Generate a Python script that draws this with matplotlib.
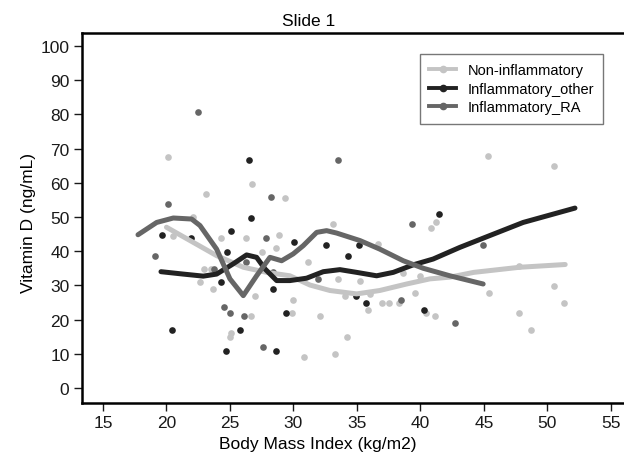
import numpy as np
import matplotlib
matplotlib.use("Agg")
import matplotlib.pyplot as plt
from matplotlib.lines import Line2D

plt.rcParams["font.family"] = ["Liberation Sans", "DejaVu Sans"]

# ---- scatter points (BMI, Vitamin D) ----
non_x = [20.09, 23.09, 26.7, 29.33, 22.11, 20.54, 24.29, 26.24, 28.9, 27.54, 28.6,
         22.95, 23.5, 22.64, 23.69, 27.0, 29.94, 29.86, 26.65, 25.06, 25.0,
         33.14, 40.8, 41.2, 36.68, 31.12, 33.48, 35.24, 38.65, 39.96, 34.06,
         36.02, 35.9, 36.95, 37.55, 38.33, 39.6, 40.41, 41.14, 32.09, 34.24,
         33.27, 30.85, 45.34, 50.5, 45.37, 47.76, 48.68, 50.51, 51.32, 47.8]
non_y = [67.6, 56.6, 59.7, 55.5, 50.1, 44.5, 43.8, 43.8, 44.7, 39.9, 40.8,
         34.8, 34.8, 30.9, 28.9, 27.0, 25.8, 21.8, 21.0, 16.1, 14.9,
         47.9, 46.7, 48.6, 42.1, 36.9, 31.9, 31.4, 33.6, 32.8, 27.0,
         27.5, 22.9, 24.9, 24.9, 24.9, 27.8, 21.8, 21.1, 21.0, 14.8,
         9.9, 9.0, 67.7, 64.8, 27.8, 21.8, 17.0, 29.7, 24.9, 35.8]

oth_x = [26.5, 26.63, 19.62, 21.93, 25.08, 30.04, 24.79, 24.27, 28.36, 29.41,
         25.79, 20.46, 24.69, 28.65, 41.46, 32.56, 35.18, 34.31, 34.92, 35.7, 40.3]
oth_y = [66.8, 49.7, 44.7, 43.8, 45.8, 42.8, 39.9, 30.9, 28.9, 21.8,
         17.0, 17.0, 10.8, 10.8, 50.9, 41.9, 41.9, 38.7, 27.0, 24.9, 22.9]

ra_x = [22.48, 28.23, 20.09, 27.83, 19.09, 23.76, 26.24, 28.41, 24.53, 24.98,
        26.1, 27.62, 33.53, 39.3, 31.95, 38.46, 44.94, 42.7]
ra_y = [80.6, 55.8, 53.8, 43.8, 38.7, 34.8, 36.8, 33.8, 23.8, 21.8,
        21.0, 11.9, 66.8, 47.9, 31.9, 25.8, 41.8, 19.0]

# ---- smoothed curves ----
non_lx = [20.0, 22.1, 23.95, 26.05, 27.9, 29.72, 31.3, 32.87, 34.98, 36.8,
          38.91, 40.75, 42.32, 44.2, 47.83, 51.4]
non_ly = [47.0, 42.6, 38.7, 35.3, 33.8, 32.8, 30.1, 28.5, 27.5, 28.5,
          30.4, 31.9, 32.4, 33.8, 35.3, 36.1]

oth_lx = [19.57, 21.32, 22.9, 23.95, 25.26, 26.31, 27.1, 27.76, 28.68, 29.72,
          31.04, 32.35, 33.66, 34.98, 36.55, 37.86, 39.43, 41.0, 43.1, 44.94,
          48.09, 52.17]
oth_ly = [34.0, 33.3, 32.7, 33.3, 36.3, 38.9, 38.2, 34.8, 31.4, 31.4,
          32.1, 34.0, 34.6, 33.8, 32.8, 33.8, 36.0, 37.7, 41.1, 43.8,
          48.4, 52.6]

ra_lx = [17.76, 19.23, 20.54, 21.98, 22.64, 23.95, 25.0, 26.05, 27.1, 28.15,
         29.07, 29.98, 30.77, 31.83, 32.61, 33.4, 35.24, 36.8, 38.65, 40.22,
         42.32, 44.94]
ra_ly = [44.8, 48.4, 49.7, 49.4, 47.5, 40.6, 31.9, 27.0, 32.8, 38.2,
         37.2, 39.2, 41.6, 45.5, 46.0, 45.3, 43.1, 40.6, 37.2, 35.0,
         32.8, 30.4]

c_non = "#c4c4c4"
c_oth = "#222222"
c_ra = "#666666"

fig = plt.figure(figsize=(6.24, 4.6), dpi=100)
ax = fig.add_axes([82/624, 1-404/460, 567/624, 370/460])

ax.plot(non_x, non_y, "o", color=c_non, ms=4.8, mew=0)
ax.plot(oth_x, oth_y, "o", color=c_oth, ms=4.8, mew=0)
ax.plot(ra_x, ra_y, "o", color=c_ra, ms=4.8, mew=0)

ax.plot(non_lx, non_ly, color=c_non, lw=3.6, solid_capstyle="round", solid_joinstyle="round")
ax.plot(oth_lx, oth_ly, color=c_oth, lw=3.6, solid_capstyle="round", solid_joinstyle="round")
ax.plot(ra_lx, ra_ly, color=c_ra, lw=3.6, solid_capstyle="round", solid_joinstyle="round")

ax.set_xlim(13.35, 58)
ax.set_ylim(-4.4, 103.8)
ax.set_xticks(range(15, 60, 5))
ax.set_yticks(range(0, 110, 10))
for s in ["left", "bottom", "top"]:
    ax.spines[s].set_linewidth(1.8)
ax.spines["right"].set_visible(False)
ax.tick_params(direction="out", length=6, width=1.0, labelsize=12.5, colors="#1a1a1a", pad=3)

ax.set_xlabel("Body Mass Index (kg/m2)", fontsize=12.5)
ax.xaxis.set_label_coords(0.415, -0.09)
ax.set_ylabel("Vitamin D (ng/mL)", fontsize=12.5)
ax.yaxis.set_label_coords(-0.082, 0.49)
ax.set_title("Slide 1", fontsize=12.5, x=0.40, pad=6)

handles = [Line2D([], [], color=c, lw=2.8, marker="o", ms=4.5) for c in (c_non, c_oth, c_ra)]
fig.legend(handles, ["Non-inflammatory", "Inflammatory_other", "Inflammatory_RA"],
           loc="upper left", bbox_to_anchor=(420/624, 1-55/460), borderaxespad=0,
           fontsize=10.5, frameon=True, fancybox=False, edgecolor="#555555",
           handlelength=1.8, handletextpad=0.8, labelspacing=0.3, borderpad=0.65,
           numpoints=1)

fig.savefig("out.png", dpi=100)
